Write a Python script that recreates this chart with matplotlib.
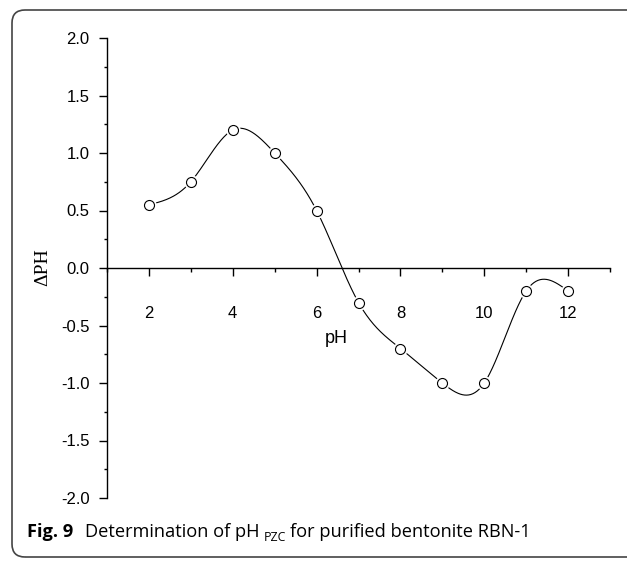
import numpy as np
import matplotlib
matplotlib.use("Agg")
import matplotlib.pyplot as plt
from matplotlib.patches import FancyBboxPatch
from matplotlib.transforms import IdentityTransform
from matplotlib.ticker import MultipleLocator

# ---- data ----
ph = [2, 3, 4, 5, 6, 7, 8, 9, 10, 11, 12]
delta_ph = [0.55, 0.75, 1.2, 1.0, 0.5, -0.3, -0.7, -1.0, -1.0, -0.2, -0.2]
x_major_ticks = [2, 4, 6, 8, 10, 12]
y_major_ticks = [-2.0, -1.5, -1.0, -0.5, 0.0, 0.5, 1.0, 1.5, 2.0]
y_tick_labels = ["-2.0", "-1.5", "-1.0", "-0.5", "0.0", "0.5", "1.0", "1.5", "2.0"]
caption_bold = "Fig. 9"
caption_a = "Determination of pH"
caption_sub = "PZC"
caption_b = "for purified bentonite RBN-1"


def natural_spline(x, y, xs):
    x = np.asarray(x, float)
    y = np.asarray(y, float)
    n = len(x)
    h = np.diff(x)
    A = np.zeros((n, n))
    r = np.zeros(n)
    A[0, 0] = 1
    A[-1, -1] = 1
    for i in range(1, n - 1):
        A[i, i - 1] = h[i - 1]
        A[i, i] = 2 * (h[i - 1] + h[i])
        A[i, i + 1] = h[i]
        r[i] = 6 * ((y[i + 1] - y[i]) / h[i] - (y[i] - y[i - 1]) / h[i - 1])
    M = np.linalg.solve(A, r)
    out = np.empty_like(xs)
    for k, xv in enumerate(xs):
        i = min(max(np.searchsorted(x, xv) - 1, 0), n - 2)
        t1 = x[i + 1] - xv
        t0 = xv - x[i]
        hi = h[i]
        out[k] = (M[i] * t1 ** 3 / (6 * hi) + M[i + 1] * t0 ** 3 / (6 * hi)
                  + (y[i] / hi - M[i] * hi / 6) * t1
                  + (y[i + 1] / hi - M[i + 1] * hi / 6) * t0)
    return out


W, H = 627, 564
fig = plt.figure(figsize=(W / 100, H / 100), dpi=100)
ax = fig.add_axes([107 / W, 1 - 498 / H, (610 - 107) / W, (498 - 38) / H])

xs = np.linspace(ph[0], ph[-1], 600)
ys = natural_spline(ph, delta_ph, xs)
ax.plot(xs, ys, color="black", lw=0.8, zorder=2)
ax.plot(ph, delta_ph, linestyle="none", marker="o", ms=10.5,
        mfc="white", mec="none", zorder=3)
ax.plot(ph, delta_ph, linestyle="none", marker="o", ms=7.2,
        mfc="white", mec="black", mew=0.8, zorder=4)

ax.set_xlim(1, 13)
ax.set_ylim(-2, 2)
ax.spines["top"].set_visible(False)
ax.spines["right"].set_visible(False)
ax.spines["bottom"].set_position(("data", 0))
for s in ("left", "bottom"):
    ax.spines[s].set_linewidth(1.0)

ax.set_xticks(x_major_ticks)
ax.set_xticklabels([str(v) for v in x_major_ticks])
ax.xaxis.set_minor_locator(MultipleLocator(1))
ax.set_yticks(y_major_ticks)
ax.set_yticklabels(y_tick_labels)
ax.yaxis.set_minor_locator(MultipleLocator(0.25))

tick_font = "Liberation Sans"
ax.tick_params(axis="x", which="major", direction="out", length=6, width=1.0,
               pad=21, labelsize=12)
ax.tick_params(axis="x", which="minor", direction="out", length=3, width=1.0)
ax.tick_params(axis="y", which="major", direction="out", length=5.5, width=1.0,
               pad=7, labelsize=12)
ax.tick_params(axis="y", which="minor", direction="out", length=2.5, width=1.0)
for lab in ax.get_xticklabels() + ax.get_yticklabels():
    lab.set_fontfamily(tick_font)

ax.text(6.47, -0.61, "pH", ha="center", va="center", fontsize=13,
        family="Liberation Sans")
fig.text(43 / W, 1 - 267 / H, "\u0394PH", rotation=90, ha="center",
         va="center", fontsize=14, family="Liberation Serif")

# border
box = FancyBboxPatch((12, H - 557), 650, 547,
                     boxstyle="round,pad=0,rounding_size=13",
                     transform=IdentityTransform(), fill=False,
                     edgecolor="#444444", lw=1.2)
fig.add_artist(box)

# caption
renderer = fig.canvas.get_renderer()
cap_font = "Open Sans"


def make_caption(size, draw=True):
    x = 27.0
    yb = H - 537
    arts = []
    t = fig.text(x, yb, caption_bold, transform=IdentityTransform(),
                 fontsize=size, fontweight="bold", family=cap_font,
                 va="baseline", ha="left")
    arts.append(t)
    x += t.get_window_extent(renderer).width + 12
    t = fig.text(x, yb, caption_a, transform=IdentityTransform(),
                 fontsize=size, family=cap_font, va="baseline", ha="left")
    arts.append(t)
    x += t.get_window_extent(renderer).width + 4
    t = fig.text(x, yb - 4, caption_sub, transform=IdentityTransform(),
                 fontsize=size * 0.68, family=cap_font, va="baseline", ha="left")
    arts.append(t)
    x += t.get_window_extent(renderer).width + 4
    t = fig.text(x, yb, caption_b, transform=IdentityTransform(),
                 fontsize=size, family=cap_font, va="baseline", ha="left")
    arts.append(t)
    x += t.get_window_extent(renderer).width
    return x, arts


end, arts = make_caption(11)
for a in arts:
    a.remove()
scale = (533 - 27 - 20) / (end - 27 - 20)
make_caption(11 * scale)

fig.savefig("out.png", dpi=100)
